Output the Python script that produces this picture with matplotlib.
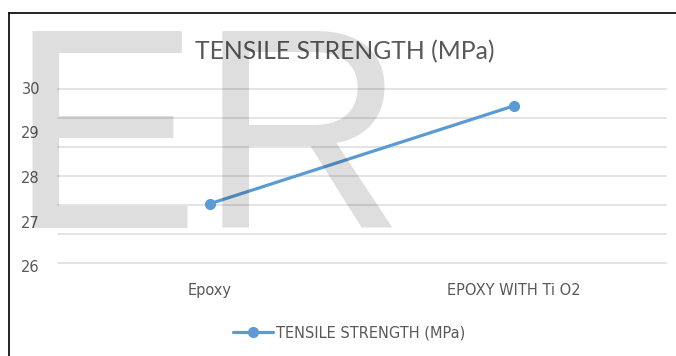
import numpy as np
import matplotlib
matplotlib.use("Agg")
import matplotlib.pyplot as plt
from matplotlib.lines import Line2D

# data
categories = ["Epoxy", "EPOXY WITH Ti O2"]
tensile_strength = [27.4, 29.6]
y_ticks = [26, 27, 28, 29, 30]
series_name = "TENSILE STRENGTH (MPa)"
chart_title = "TENSILE STRENGTH (MPa)"

W, H = 676, 356
fig = plt.figure(figsize=(W / 100, H / 100), dpi=100)
fig.patch.set_facecolor("white")

# plot area in pixels: left 58, right 666, top 88, bottom 266
ax = fig.add_axes([58 / W, (H - 266) / H, 608 / W, 178 / H])
ax.set_facecolor("none")

text_gray = "#595959"
blue = "#5B9BD5"

x = np.arange(len(categories))
ax.plot(x, tensile_strength, color=blue, lw=2.3, marker="o", ms=7,
        markerfacecolor=blue, markeredgecolor=blue, zorder=3,
        label=series_name, solid_capstyle="round")

ax.set_xlim(-0.5, len(categories) - 0.5)
ylo, yhi = 26.057, 29.987
ax.set_ylim(ylo, yhi)

# horizontal gridlines, evenly spaced across the plot area
for gy in np.linspace(ylo, yhi, 7):
    ax.axhline(gy, color="#dcdcdc", lw=1.1, zorder=1, clip_on=False)

ax.set_xticks(x)
ax.set_xticklabels(categories)
ax.set_yticks(y_ticks)
ax.set_yticklabels([str(v) for v in y_ticks])
ax.tick_params(axis="both", length=0, labelsize=10.5, labelcolor=text_gray)
ax.tick_params(axis="y", pad=13)
ax.tick_params(axis="x", pad=12)
for s in ax.spines.values():
    s.set_visible(False)

fig.text(345 / W, 1 - 52 / H, chart_title, ha="center", va="center",
         fontsize=17.8, family="Lato", color=text_gray)

fig.legend(loc="center", bbox_to_anchor=(349 / W, 1 - 333 / H),
           frameon=False, fontsize=10.5, handlelength=2.7,
           handletextpad=0.2, labelcolor=text_gray)

# outer frame: top and left edges only
fig.add_artist(Line2D([9 / W, 1], [1 - 12.5 / H, 1 - 12.5 / H],
                      transform=fig.transFigure, color="#111111", lw=1.3))
fig.add_artist(Line2D([9 / W, 9 / W], [0, 1 - 12.5 / H],
                      transform=fig.transFigure, color="#111111", lw=1.3))

# translucent watermark over the chart
fig.text(8 / W, (H - 228) / H, "ER", ha="left", va="baseline",
         fontsize=206, family="Liberation Sans", color="black",
         alpha=0.13, zorder=10)

fig.savefig("out.png", dpi=100)
